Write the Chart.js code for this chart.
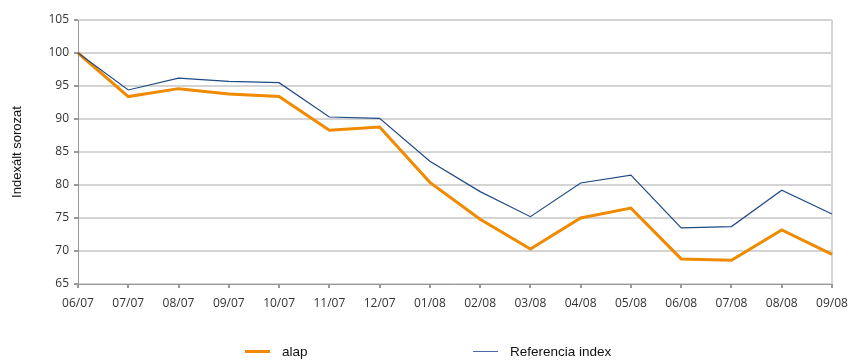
<!DOCTYPE html>
<html>
<head>
<meta charset="utf-8">
<script src="https://cdn.jsdelivr.net/npm/chart.js@4.4.0/dist/chart.umd.min.js"></script>
<style>
  html, body { margin: 0; padding: 0; background: #fff; }
  #wrap { position: relative; width: 848px; height: 360px; }
  #legend { position: absolute; left: 0; top: 344px; width: 848px; height: 18px;
            font-family: "Liberation Sans", Arial, sans-serif; font-size: 13.5px; color: #111; }
  .item { position: absolute; top: 0; display: flex; align-items: center; }
  .swatch { display: inline-block; width: 25px; margin-right: 12px; }
</style>
</head>
<body>
<div id="wrap">
  <canvas id="c" width="848" height="360"></canvas>
  <div id="legend"></div>
</div>
<script>
// Monthly index values, base = 100 at 06/07
const months = ['06/07','07/07','08/07','09/07','10/07','11/07','12/07','01/08',
                '02/08','03/08','04/08','05/08','06/08','07/08','08/08','09/08'];
const alap = [100, 93.4, 94.6, 93.8, 93.4, 88.3, 88.8, 80.4,
              74.8, 70.3, 75.0, 76.5, 68.8, 68.6, 73.2, 69.5];
const referencia = [100, 94.4, 96.2, 95.7, 95.5, 90.3, 90.1, 83.6,
                    79.0, 75.2, 80.3, 81.5, 73.5, 73.7, 79.2, 75.6];
const yTicks = [65, 70, 75, 80, 85, 90, 95, 100, 105];

const seriesNames = ['alap', 'Referencia index'];
const ORANGE = '#F08A00';
const NAVY = '#1F4A86';

const tickFont = { family: '"Open Sans", sans-serif', size: 12 };

new Chart(document.getElementById('c'), {
  type: 'line',
  data: {
    labels: months,
    datasets: [
      { label: seriesNames[1], data: referencia, borderColor: NAVY, borderWidth: 1.2,
        pointRadius: 0, tension: 0, fill: false },
      { label: seriesNames[0], data: alap, borderColor: ORANGE, borderWidth: 3,
        pointRadius: 0, tension: 0, fill: false }
    ]
  },
  options: {
    responsive: false,
    animation: false,
    events: [],
    layout: { padding: { top: 20, right: 16, left: 0, bottom: 0 } },
    plugins: { legend: { display: false }, tooltip: { enabled: false } },
    scales: {
      x: {
        offset: false,
        grid: {
          drawOnChartArea: true,
          color: ctx => (ctx.index === months.length - 1 ? '#D4D4D4' : 'rgba(0,0,0,0)'),
          lineWidth: 2,
          tickLength: 4,
          tickColor: '#999'
        },
        border: { color: '#999', width: 1 },
        ticks: { font: tickFont, color: '#333', maxRotation: 0, autoSkip: false, padding: 8 },
        afterFit: s => { s.height = 76; s.paddingLeft = 0; s.paddingRight = 0; }
      },
      y: {
        min: 65, max: 105,
        afterBuildTicks: s => { s.ticks = yTicks.map(v => ({ value: v })); },
        grid: { color: '#D4D4D4', lineWidth: 2, tickLength: 4, tickColor: '#999' },
        border: { color: '#999', width: 1 },
        ticks: { font: tickFont, color: '#333', padding: 5 },
        title: { display: true, text: 'Indexált sorozat', color: '#111',
                 font: { family: '"Liberation Sans", Arial, sans-serif', size: 13 },
                 padding: { top: 10, bottom: 4 } },
        afterFit: s => { s.width = 78; s.paddingTop = 0; s.paddingBottom = 0; }
      }
    }
  }
});

// Legend below the plot
const legend = document.getElementById('legend');
[[seriesNames[0], ORANGE, 3, 245], [seriesNames[1], '#4A6C9E', 1.5, 473]].forEach(([name, col, w, x]) => {
  const item = document.createElement('div');
  item.className = 'item';
  item.style.left = x + 'px';
  const sw = document.createElement('span');
  sw.className = 'swatch';
  sw.style.borderTop = w + 'px solid ' + col;
  item.appendChild(sw);
  const t = document.createElement('span');
  t.textContent = name;
  item.appendChild(t);
  legend.appendChild(item);
});
</script>
</body>
</html>
